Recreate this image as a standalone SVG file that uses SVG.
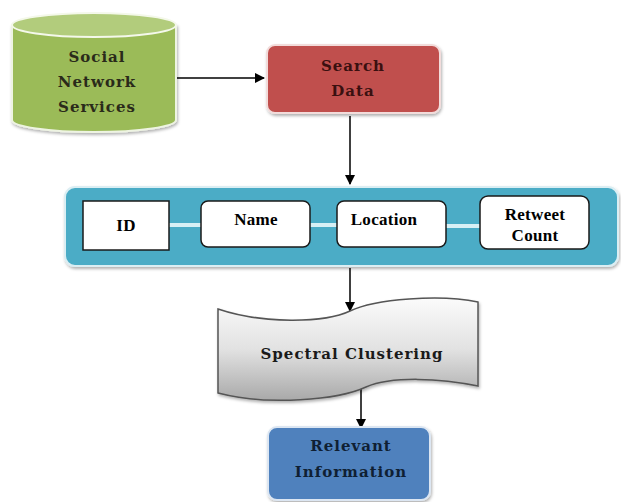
<svg xmlns="http://www.w3.org/2000/svg" width="621" height="502" viewBox="0 0 621 502">
<style>
.lbl{font-weight:bold;text-anchor:middle;dominant-baseline:central}
.big{font-family:"DejaVu Serif","Liberation Serif",serif;font-size:15px;letter-spacing:1px}
.small{font-family:"Liberation Serif","DejaVu Serif",serif;font-size:17px;fill:#000;letter-spacing:0.3px}
.wire{stroke:#000;stroke-width:1.5;fill:none}
.inner{fill:#fff;stroke:#1a1a1a;stroke-width:1.5}
.link{stroke:#d8f0f5;stroke-width:4}
</style>
<defs>
<marker id="ah" viewBox="0 0 10 10" refX="9" refY="5" markerWidth="7" markerHeight="7" orient="auto">
<path d="M0,0 L10,5 L0,10 z" fill="#000"/>
</marker>
<linearGradient id="gray" x1="0" y1="0" x2="0" y2="1">
<stop offset="0" stop-color="#fbfbfb"/>
<stop offset="0.5" stop-color="#e2e2e2"/>
<stop offset="1" stop-color="#a9a9a9"/>
</linearGradient>
<filter id="sh" x="-10%" y="-10%" width="125%" height="130%">
<feDropShadow dx="1" dy="2" stdDeviation="1.5" flood-color="#000" flood-opacity="0.3"/>
</filter>
</defs>

<g id="connectors">
<line class="wire" x1="177" y1="78" x2="264" y2="78" marker-end="url(#ah)"/>
<line class="wire" x1="350" y1="116" x2="350" y2="184" marker-end="url(#ah)"/>
<line class="wire" x1="350" y1="268" x2="350" y2="311" marker-end="url(#ah)"/>
<line class="wire" x1="361" y1="388" x2="361" y2="428" marker-end="url(#ah)"/>
</g>

<g id="social">
<path d="M12,25 L12,120 A82,12 0 0 0 176,120 L176,25 Z" fill="#9bbb59" stroke="#eef4e2" stroke-width="2" filter="url(#sh)"/>
<ellipse cx="94" cy="25" rx="82" ry="12" fill="#b2cc7c" stroke="#f4f8ea" stroke-width="2"/>
<text class="lbl big" x="97" y="57" fill="#2a2a1a">Social</text>
<text class="lbl big" x="97" y="82" fill="#2a2a1a">Network</text>
<text class="lbl big" x="97" y="107" fill="#2a2a1a">Services</text>
</g>

<g id="search">
<rect x="267" y="45" width="173" height="68" rx="8" fill="#c0504d" stroke="#f2dcdb" stroke-width="2" filter="url(#sh)"/>
<text class="lbl big" x="353" y="66" fill="#3a1010">Search</text>
<text class="lbl big" x="353" y="91" fill="#3a1010">Data</text>
</g>

<g id="attributes">
<rect x="65" y="187" width="553" height="79" rx="10" fill="#4bacc6" stroke="#dbeef3" stroke-width="2" filter="url(#sh)"/>
<line class="link" x1="169" y1="225" x2="201" y2="225"/>
<line class="link" x1="310" y1="225" x2="337" y2="225"/>
<line class="link" x1="446" y1="226" x2="480" y2="226"/>
</g>

<g id="id">
<rect class="inner" x="83" y="201" width="86" height="49"/>
<text class="lbl small" x="126" y="225">ID</text>
</g>
<g id="name">
<rect class="inner" x="201" y="201" width="109" height="46" rx="7"/>
<text class="lbl small" x="256" y="219">Name</text>
</g>
<g id="location">
<rect class="inner" x="337" y="201" width="109" height="46" rx="7"/>
<text class="lbl small" x="384" y="219">Location</text>
</g>
<g id="retweet">
<rect class="inner" x="480" y="196" width="109" height="53" rx="8"/>
<text class="lbl small" x="535" y="214">Retweet</text>
<text class="lbl small" x="535" y="235">Count</text>
</g>

<g id="spectral">
<path d="M218,309 C262,324 325,323 350,311 C375,299 440,294 478,302 L478,386 C440,378 392,376 366,387 C338,400 268,406 218,393 Z" fill="url(#gray)" stroke="#555" stroke-width="1.5" filter="url(#sh)"/>
<text class="lbl big" x="352" y="354" font-size="16" letter-spacing="0.5" fill="#1a1a1a">Spectral Clustering</text>
</g>

<g id="relevant">
<rect x="268" y="427" width="162" height="73" rx="9" fill="#4f81bd" stroke="#dce6f2" stroke-width="2" filter="url(#sh)"/>
<text class="lbl big" x="351" y="446" fill="#0f1f33">Relevant</text>
<text class="lbl big" x="351" y="472" fill="#0f1f33">Information</text>
</g>
</svg>
